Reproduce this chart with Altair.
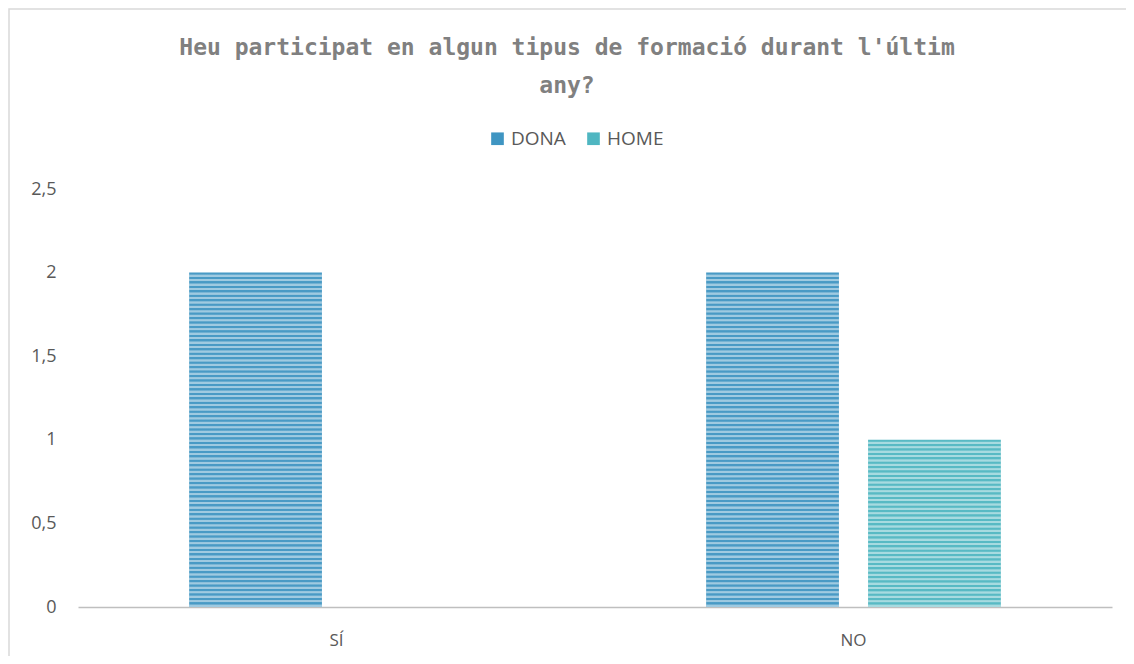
import altair as alt
import pandas as pd

categories = ["SÍ", "SÍ", "NO", "NO"]
series = ["DONA", "HOME", "DONA", "HOME"]
values = [2, 0, 2, 1]
y_ticks = [0, 0.5, 1, 1.5, 2, 2.5]

df = pd.DataFrame({"cat": categories, "sexe": series, "val": values})

W, H = 1034, 418
PL, PT, PR, PB = 70, 181, 14, 49


def stripes(n, alpha=0.5):
    stops = []
    clear = "rgba(255,255,255,0.05)"
    light = f"rgba(255,255,255,{alpha})"
    for i in range(n):
        a = i / n
        b = (i + 0.35) / n
        c = (i + 0.55) / n
        d = (i + 0.9) / n
        stops += [
            alt.GradientStop(color=clear, offset=a),
            alt.GradientStop(color=clear, offset=b),
            alt.GradientStop(color=light, offset=c),
            alt.GradientStop(color=light, offset=d),
        ]
    return alt.LinearGradient(gradient="linear", stops=stops, x1=0, x2=0, y1=0, y2=1)


x_enc = alt.X(
    "cat:N",
    sort=["SÍ", "NO"],
    scale=alt.Scale(paddingInner=0.43, paddingOuter=0.215),
    axis=alt.Axis(
        title=None, labelAngle=0, ticks=False, domainColor="#bfbfbf", domainWidth=1.5,
        labelFontSize=17, labelColor="#595959", labelFont="Open Sans", labelPadding=25,
    ),
)
xo_enc = alt.XOffset(
    "sexe:N", sort=["DONA", "HOME"], scale=alt.Scale(paddingInner=0.18, paddingOuter=0)
)
y_enc = alt.Y(
    "val:Q",
    scale=alt.Scale(domain=[0, 2.5], nice=False),
    axis=alt.Axis(
        title=None, values=y_ticks, domain=False, ticks=False, grid=False,
        labelExpr="replace(format(datum.value, '~g'), '.', ',')", labelFontSize=18,
        labelColor="#595959", labelFont="Open Sans", labelPadding=22,
    ),
)

base = alt.Chart(df).encode(x=x_enc, xOffset=xo_enc, y=y_enc)

bars = base.mark_bar().encode(
    color=alt.Color(
        "sexe:N",
        sort=["DONA", "HOME"],
        scale=alt.Scale(domain=["DONA", "HOME"], range=["#3f95c2", "#4fb6c1"]),
        legend=alt.Legend(
            title=None, orient="none", direction="horizontal", legendX=410, legendY=-60,
            symbolType="square", symbolSize=160, symbolStrokeWidth=0,
            labelFontSize=19, labelColor="#595959", labelFont="Open Sans",
            columnPadding=18, labelOffset=4,
        ),
    )
)

stripe_dona = base.transform_filter(alt.datum.sexe == "DONA").mark_bar(fill=stripes(75))
stripe_home = base.transform_filter(alt.datum.sexe == "HOME").mark_bar(fill=stripes(38))

border = alt.Chart(alt.Data(values=[{}])).mark_rect(
    fill=None, stroke="#d9d9d9", strokeWidth=1.5
).encode(
    x=alt.value(-PL + 1), y=alt.value(-PT + 1), x2=alt.value(W + 400), y2=alt.value(H + 400)
)

chart = (
    alt.layer(border, bars, stripe_dona, stripe_home)
    .properties(
        width=W,
        height=H,
        autosize=alt.AutoSizeParams(type="none"),
        padding={"left": PL, "top": PT, "right": PR, "bottom": PB},
        title=alt.TitleParams(
            text=["Heu participat en algun tipus de formació durant l'últim", "any?"],
            anchor="middle",
            frame="group",
            font="DejaVu Sans Mono",
            fontSize=23,
            fontWeight="bold",
            color="#808080",
            lineHeight=38,
            offset=20,
            dy=110,
            dx=-28,
        ),
    )
    .configure_view(stroke=None)
)

chart.save("out.html", embed_options={"renderer": "svg", "actions": False})
